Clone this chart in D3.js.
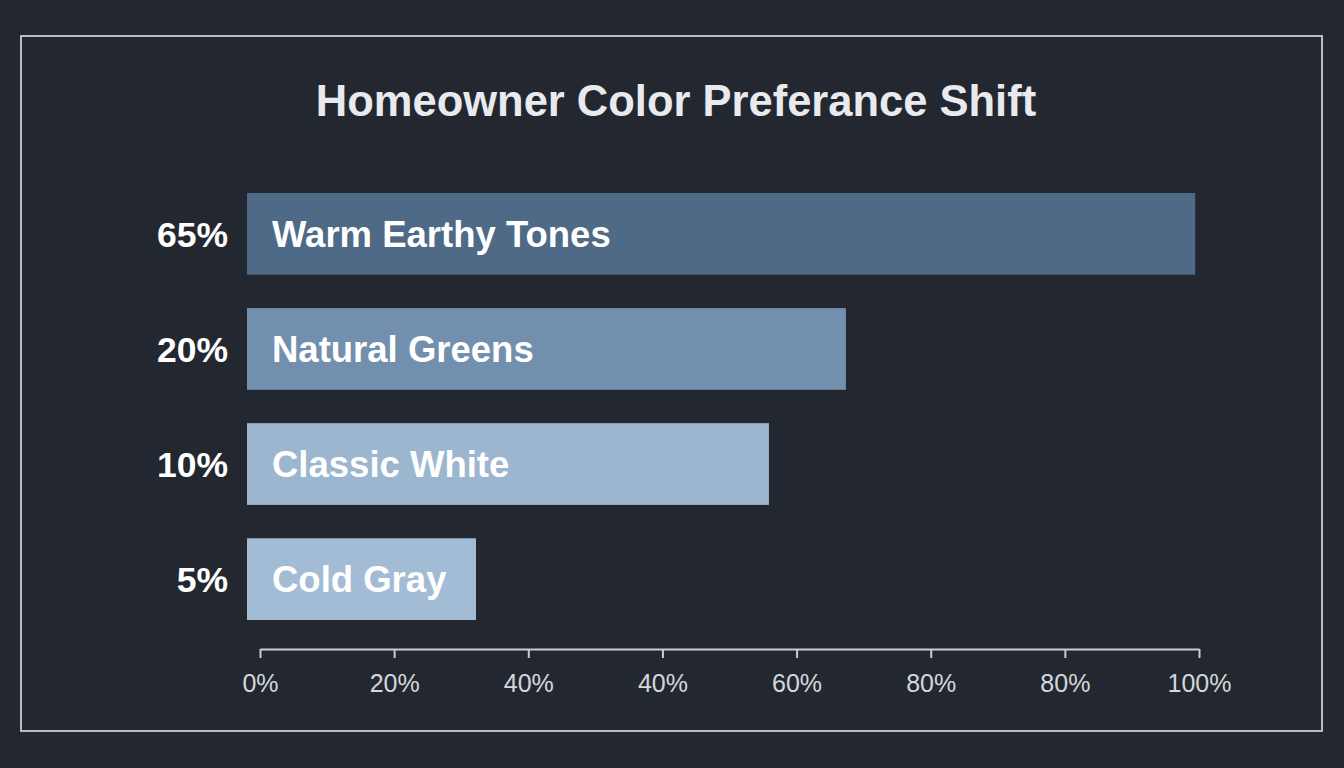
<!DOCTYPE html>
<head>
  <meta charset="utf-8">
  <style>
    html, body {
      margin: 0;
      padding: 0;
      background: #232830;
    }

    svg {
      display: block;
      font-family: "Liberation Sans", Arial, sans-serif;
    }

    .frame {
      fill: none;
      stroke: #b9bdc3;
      stroke-width: 2;
    }

    .title {
      fill: #e8eaee;
      font-size: 43.5px;
      font-weight: bold;
    }

    .share, .category {
      fill: #ffffff;
      font-weight: bold;
    }

    .share {
      font-size: 35.5px;
    }

    .category {
      font-size: 36.5px;
    }

    .axis path, .axis line {
      stroke: #c9cdd2;
      stroke-width: 2;
    }

    .axis text {
      fill: #d4d7dc;
      font-size: 25px;
      font-family: "Liberation Sans", Arial, sans-serif;
    }
  </style>
  <script src="https://d3js.org/d3.v7.min.js"></script>
</head>

<body>
  <script>
  var categories = ["Warm Earthy Tones", "Natural Greens", "Classic White", "Cold Gray"];
  var shareLabels = ["65%", "20%", "10%", "5%"];
  // bar lengths as drawn, read against the axis (0 to 100)
  var barLengths = [99.6, 62.4, 54.2, 23.0];
  var barColors = ["#4e6a87", "#7290ae", "#9cb6cf", "#a3bcd5"];
  var tickLabels = ["0%", "20%", "40%", "40%", "60%", "80%", "80%", "100%"];

  var width = 1344,
      height = 768;

  var svg = d3.select("body").append("svg")
      .attr("width", width)
      .attr("height", height);

  // outer frame
  svg.append("rect")
      .attr("class", "frame")
      .attr("x", 21)
      .attr("y", 36)
      .attr("width", 1301)
      .attr("height", 695);

  svg.append("text")
      .attr("class", "title")
      .attr("x", 676)
      .attr("y", 116)
      .attr("text-anchor", "middle")
      .text("Homeowner Color Preferance Shift");

  var xScale = d3.scaleLinear()
      .domain([0, 100])
      .range([260, 1199]);

  var tickScale = d3.scalePoint()
      .domain(d3.range(tickLabels.length))
      .range([260, 1199]);

  var yScale = d3.scaleBand()
      .domain(categories)
      .range([193, 620])
      .paddingInner(0.29)
      .paddingOuter(0);

  var barStart = xScale(0) - 13;

  var bar = svg.selectAll(".bar")
    .data(categories)
    .enter().append("g")
      .attr("class", "bar");

  bar.append("rect")
      .attr("x", barStart)
      .attr("y", function(d) { return yScale(d); })
      .attr("width", function(d, i) { return xScale(barLengths[i]) - barStart; })
      .attr("height", yScale.bandwidth())
      .attr("fill", function(d, i) { return barColors[i]; });

  // category names inside the bars
  bar.append("text")
      .attr("class", "category")
      .attr("x", barStart + 25)
      .attr("y", function(d) { return yScale(d) + yScale.bandwidth() / 2; })
      .attr("dy", "0.36em")
      .text(function(d) { return d; });

  // share values left of the bars
  bar.append("text")
      .attr("class", "share")
      .attr("x", barStart - 19)
      .attr("y", function(d) { return yScale(d) + yScale.bandwidth() / 2; })
      .attr("dy", "0.36em")
      .attr("text-anchor", "end")
      .text(function(d, i) { return shareLabels[i]; });

  // axis-x
  var axis = svg.append("g")
      .attr("class", "axis")
      .attr("transform", "translate(0,649)")
      .call(d3.axisBottom(tickScale)
        .tickSize(9)
        .tickSizeOuter(0)
        .tickPadding(16)
        .tickFormat(function(i) { return tickLabels[i]; }));

  axis.selectAll("text").attr("dy", "0.71em");
  </script>
</body>

</html>
